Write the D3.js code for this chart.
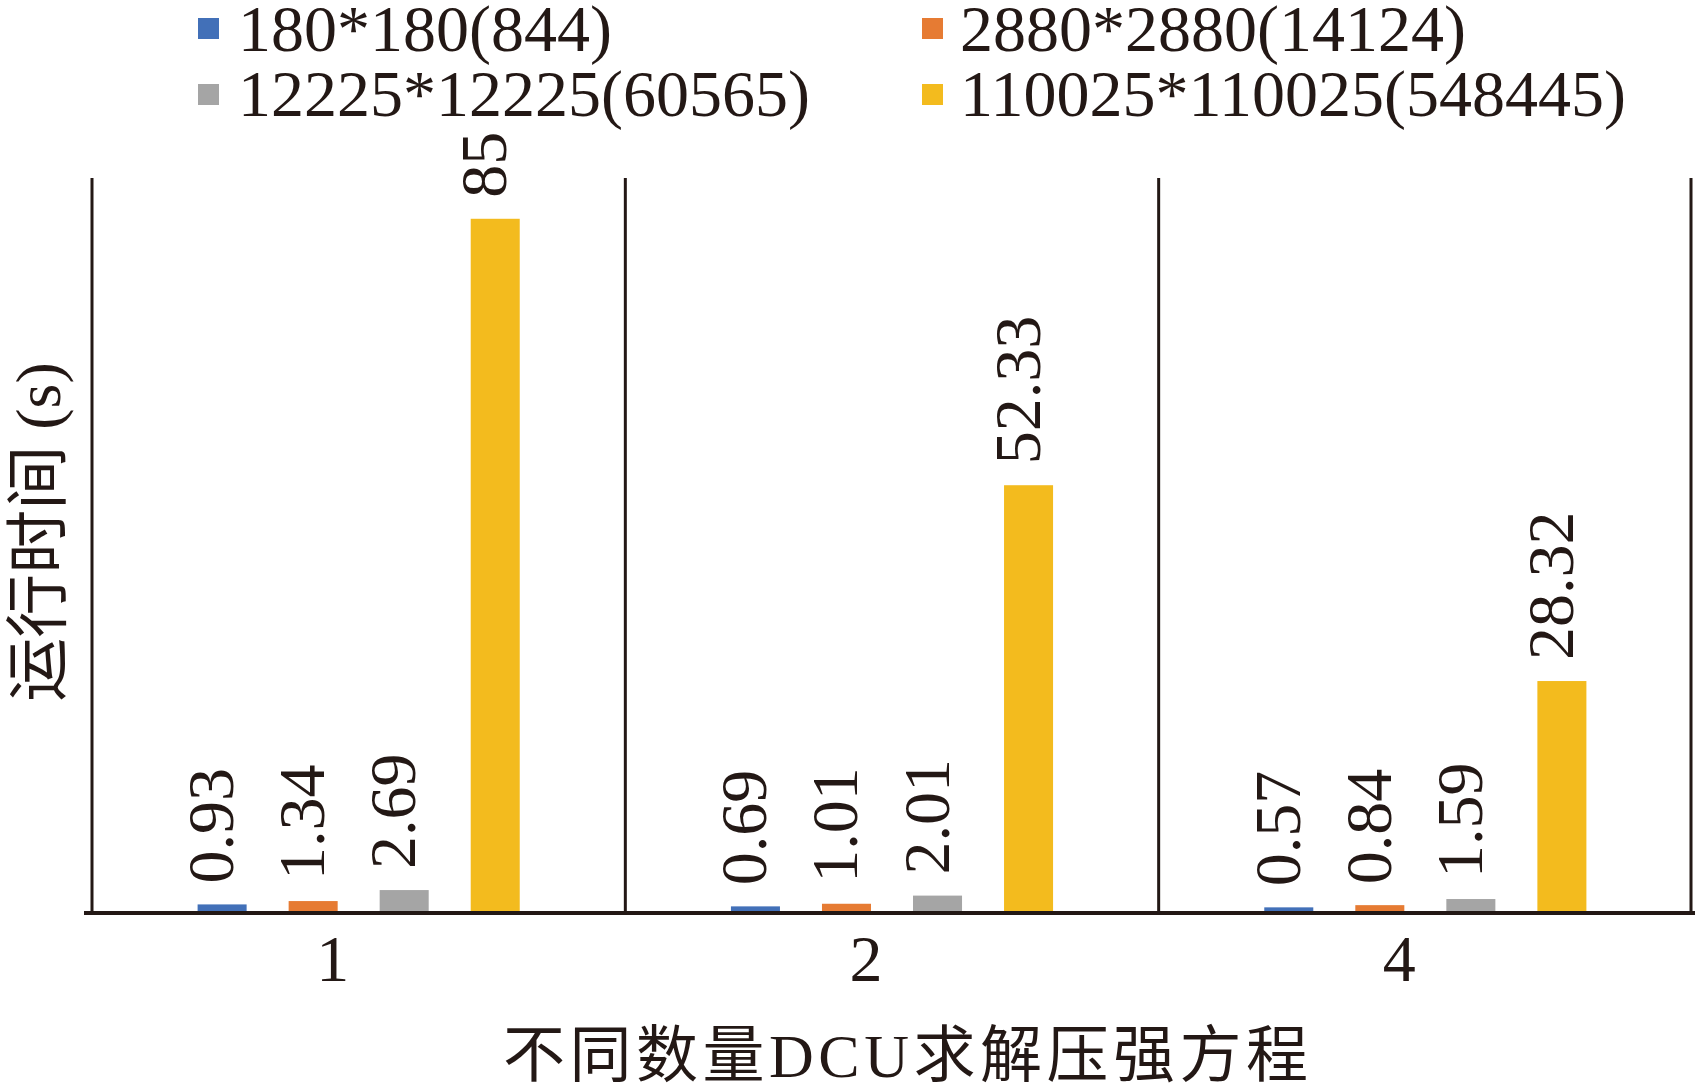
<!DOCTYPE html>
<html>
<head>
<meta charset="utf-8">
<script src="https://cdn.jsdelivr.net/npm/d3@7"></script>
<style>
  html, body { margin: 0; padding: 0; background: #fff; }
  svg { display: block; }
  text { fill: #231815; }
</style>
</head>
<body>
<svg id="chart" width="1695" height="1086"></svg>
<script>
const categories = ["1", "2", "4"];
const seriesNames = ["180*180(844)", "2880*2880(14124)", "12225*12225(60565)", "110025*110025(548445)"];
const seriesColors = ["#4270B8", "#E67B33", "#A5A5A5", "#F3BB1E"];
const values = [
  [0.93, 0.69, 0.57],
  [1.34, 1.01, 0.84],
  [2.69, 2.01, 1.59],
  [85, 52.33, 28.32]
];
const labelText = [
  ["0.93", "0.69", "0.57"],
  ["1.34", "1.01", "0.84"],
  ["2.69", "2.01", "1.59"],
  ["85", "52.33", "28.32"]
];
const yTitle = "运行时间 (s)";
const xTitle = "不同数量DCU求解压强方程";

(function () {
const svg = d3.select("#chart");
const serif = "'Liberation Serif', 'Times New Roman', 'Noto Sans CJK SC', serif";
const cjk = "'Liberation Serif', 'Noto Sans CJK SC', serif";

const pLeft = 92, pRight = 1692, pTop = 178, pBottom = 912;
const x0 = d3.scaleBand().domain(categories).range([pLeft, pRight]).padding(0);
const x1 = d3.scaleBand().domain(d3.range(seriesNames.length))
  .range([0, x0.bandwidth()]).paddingInner(0.4615).paddingOuter(1.16);
const y = d3.scaleLinear().domain([0, 90]).range([pBottom, pTop]);

// bars
seriesNames.forEach((name, si) => {
  const g = svg.append("g");
  g.selectAll("rect").data(categories).join("rect")
    .attr("x", (c) => x0(c) + x1(si))
    .attr("y", (c, ci) => y(values[si][ci]))
    .attr("width", x1.bandwidth())
    .attr("height", (c, ci) => y(0) - y(values[si][ci]))
    .attr("fill", seriesColors[si]);
  g.selectAll("text").data(categories).join("text")
    .attr("transform", (c, ci) => {
      const cx = x0(c) + x1(si) + x1.bandwidth() / 2 + 11;
      const ty = y(values[si][ci]) - 21;
      return `translate(${cx},${ty}) rotate(-90)`;
    })
    .attr("text-anchor", "start")
    .style("font-family", serif)
    .style("font-size", "66px")
    .text((c, ci) => labelText[si][ci]);
});

// separators / frame lines
const boundaries = categories.map(c => x0(c)).concat([pRight - 1]);
svg.append("g").selectAll("line").data(boundaries).join("line")
  .attr("x1", d => d).attr("x2", d => d)
  .attr("y1", pTop).attr("y2", pBottom + 2)
  .attr("stroke", "#231815").attr("stroke-width", 3);

// x axis baseline
const xAxis = d3.axisBottom(x0).tickSize(0).tickPadding(0);
const ax = svg.append("g").attr("transform", `translate(0,${pBottom + 1})`).call(xAxis);
ax.select(".domain").attr("stroke", "#231815").attr("stroke-width", 4)
  .attr("d", `M${pLeft - 8},0H${pRight + 3}`);
ax.selectAll(".tick text")
  .attr("y", 68).attr("dy", 0).attr("dx", -26)
  .style("font-family", serif).style("font-size", "66px").style("fill", "#231815");

// axis titles
svg.append("text")
  .attr("transform", `translate(60,532) rotate(-90)`)
  .attr("text-anchor", "middle")
  .style("font-family", cjk).style("font-size", "64px")
  .text(yTitle);

svg.append("text")
  .attr("x", 503).attr("y", 1077)
  .attr("textLength", 805).attr("lengthAdjust", "spacing")
  .style("font-family", cjk).style("font-size", "62px")
  .text(xTitle);

// legend
const legendPos = [
  { sx: 198, tx: 238, sy: 18, ty: 51 },
  { sx: 922, tx: 960, sy: 18, ty: 51 },
  { sx: 198, tx: 238, sy: 84, ty: 116 },
  { sx: 922, tx: 960, sy: 84, ty: 116 }
];
const lg = svg.append("g");
seriesNames.forEach((name, i) => {
  const p = legendPos[i];
  lg.append("rect").attr("x", p.sx).attr("y", p.sy).attr("width", 21).attr("height", 21)
    .attr("fill", seriesColors[i]);
  lg.append("text").attr("x", p.tx).attr("y", p.ty)
    .style("font-family", serif).style("font-size", "66px")
    .text(name);
});
})();
</script>
</body>
</html>
